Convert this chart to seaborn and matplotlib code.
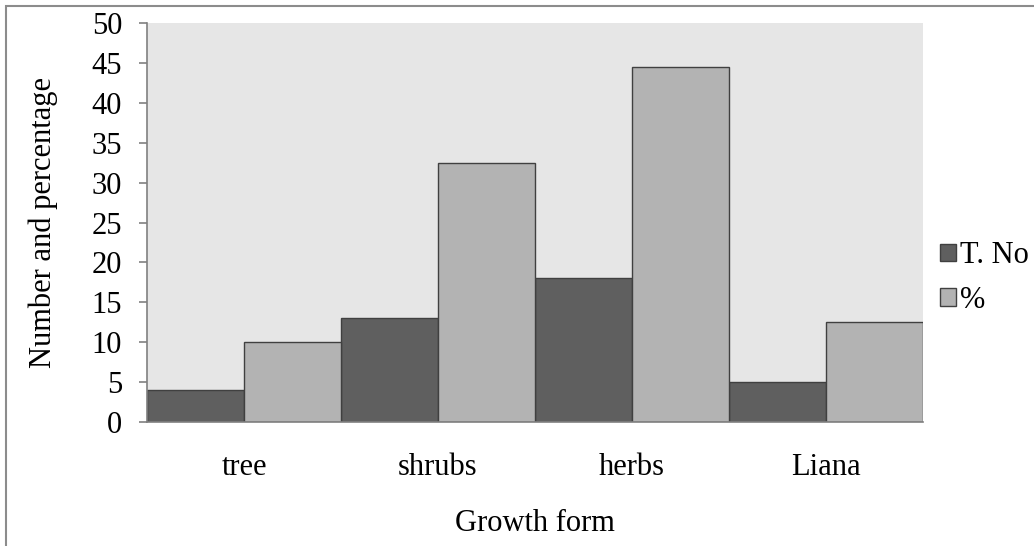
import seaborn as sns
import matplotlib.pyplot as plt
import matplotlib.patches as mpatches
import pandas as pd

# data
forms = ['tree', 'shrubs', 'herbs', 'Liana']
t_no = [4, 13, 18, 5]
percent = [10, 32.5, 44.5, 12.5]

df = pd.DataFrame({
    'form': forms * 2,
    'series': ['T. No'] * 4 + ['%'] * 4,
    'value': t_no + percent,
})

sns.set_theme(style="white")
plt.rcParams['font.family'] = ['Liberation Serif', 'DejaVu Serif']
plt.rcParams['text.color'] = 'black'
plt.rcParams['axes.labelcolor'] = 'black'
plt.rcParams['xtick.color'] = 'black'
plt.rcParams['ytick.color'] = 'black'

fs = 22

fig = plt.figure(figsize=(10.34, 5.46), dpi=100)
ax = fig.add_axes([147 / 1034, 124 / 546, 776 / 1034, 399 / 546])
ax.set_facecolor('#e6e6e6')

sns.barplot(data=df, x='form', y='value', hue='series', order=forms,
            hue_order=['T. No', '%'], palette=['#5f5f5f', '#b3b3b3'],
            width=1.0, gap=0, edgecolor='#404040', linewidth=1,
            saturation=1, legend=False, ax=ax)

ax.set_xlim(-0.5, 3.5)
ax.set_ylim(0, 50)
ax.set_yticks(range(0, 51, 5))
ax.tick_params(axis='y', labelsize=fs, length=6, width=1.2, color='#808080',
               labelcolor='black', left=True, pad=12)
ax.tick_params(axis='x', labelsize=fs, length=0, pad=22, labelcolor='black')
for s in ['top', 'right']:
    ax.spines[s].set_visible(False)
for s in ['left', 'bottom']:
    ax.spines[s].set_color('#808080')
    ax.spines[s].set_linewidth(1.2)

ax.set_xlabel('Growth form', fontsize=fs, labelpad=20, color='black')
ax.set_ylabel('Number and percentage', fontsize=fs, labelpad=24, color='black')

handles = [mpatches.Patch(facecolor='#5f5f5f', edgecolor='#404040', label='T. No'),
           mpatches.Patch(facecolor='#b3b3b3', edgecolor='#404040', label='%')]
fig.legend(handles=handles, loc='center left', bbox_to_anchor=(928 / 1034, 1 - 278 / 546),
           frameon=False, fontsize=fs, handlelength=0.5, handleheight=0.5,
           handletextpad=0.15, labelspacing=0.5, borderaxespad=0)

# outer chart frame
fig.patches.append(mpatches.Rectangle((6 / 1034, -0.1), 1.2, (540 / 546) + 0.1,
                                      transform=fig.transFigure, fill=False,
                                      edgecolor='#8c8c8c', linewidth=1.5))

fig.savefig('out.png', dpi=100)
